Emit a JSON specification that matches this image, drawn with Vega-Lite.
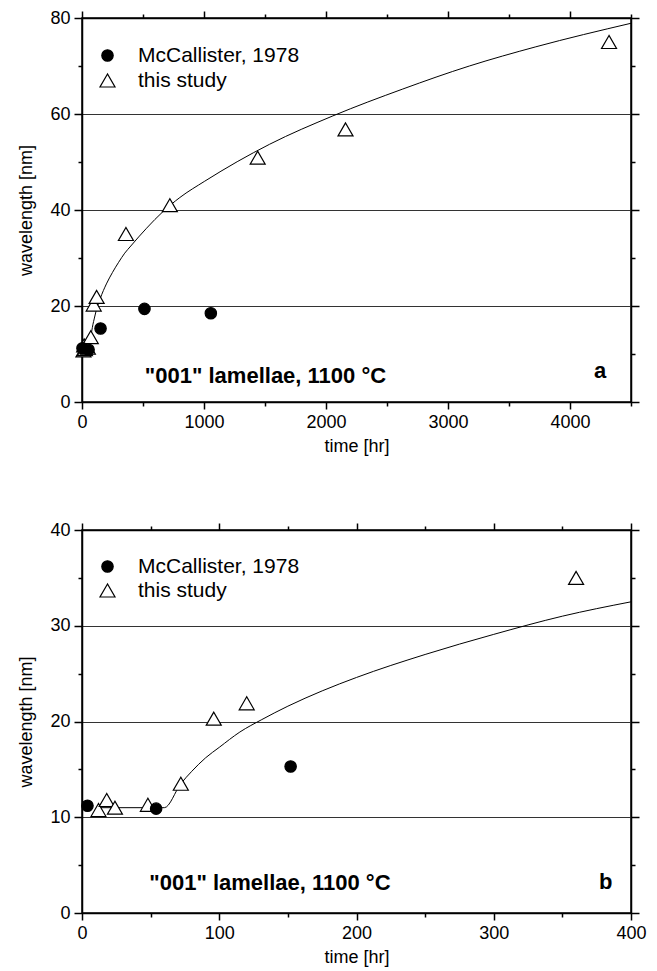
{
  "$schema": "https://vega.github.io/schema/vega-lite/v6.json",
  "padding": {"top": 8, "left": 17, "right": 8, "bottom": 3},
  "background": "white",
  "config": {
    "font": "Liberation Sans",
    "view": {"stroke": "black", "strokeWidth": 1.5},
    "axis": {
      "domainColor": "black", "domainWidth": 1.5,
      "ticks": true, "tickColor": "black", "tickWidth": 1.5,
      "labelFontSize": 18, "titleFontSize": 18, "titleFontWeight": "normal",
      "labelColor": "black", "titleColor": "black",
      "labelFlush": false, "grid": false, "labelPadding": 4,
      "labelFont": "Liberation Sans", "titleFont": "Liberation Sans"
    },
    "legend": {
      "orient": "none", "title": null, "padding": 0, "labelLimit": 400,
      "labelFontSize": 21, "labelFont": "Liberation Sans", "labelColor": "black",
      "labelOffset": 20, "symbolStrokeColor": "black", "symbolStrokeWidth": 1.2
    }
  },
  "datasets": {
    "points": [
      {"t": 12, "wl": 10.75, "series": "this study"},
      {"t": 18, "wl": 11.8, "series": "this study"},
      {"t": 24, "wl": 11.0, "series": "this study"},
      {"t": 48, "wl": 11.3, "series": "this study"},
      {"t": 72, "wl": 13.5, "series": "this study"},
      {"t": 96, "wl": 20.3, "series": "this study"},
      {"t": 120, "wl": 21.9, "series": "this study"},
      {"t": 360, "wl": 35.0, "series": "this study"},
      {"t": 720, "wl": 41.0, "series": "this study"},
      {"t": 1440, "wl": 50.9, "series": "this study"},
      {"t": 2160, "wl": 56.8, "series": "this study"},
      {"t": 4320, "wl": 75.0, "series": "this study"},
      {"t": 4, "wl": 11.2, "series": "McCallister, 1978"},
      {"t": 54, "wl": 10.9, "series": "McCallister, 1978"},
      {"t": 152, "wl": 15.3, "series": "McCallister, 1978"},
      {"t": 512, "wl": 19.4, "series": "McCallister, 1978"},
      {"t": 1056, "wl": 18.5, "series": "McCallister, 1978"}
    ],
    "curve": [
      {"t": 12, "wl": 11.0}, {"t": 60, "wl": 11.0}, {"t": 72, "wl": 13.5}, {"t": 80, "wl": 14.8},
      {"t": 90, "wl": 16.2}, {"t": 100, "wl": 17.3}, {"t": 115, "wl": 18.9}, {"t": 131, "wl": 20.2},
      {"t": 150, "wl": 21.6}, {"t": 175, "wl": 23.2}, {"t": 200, "wl": 24.6}, {"t": 250, "wl": 27.0},
      {"t": 300, "wl": 29.1}, {"t": 350, "wl": 31.0}, {"t": 400, "wl": 32.5}, {"t": 529, "wl": 36.2},
      {"t": 665, "wl": 39.7}, {"t": 802, "wl": 42.6}, {"t": 1006, "wl": 46.0}, {"t": 1538, "wl": 53.7},
      {"t": 2056, "wl": 59.6}, {"t": 2629, "wl": 65.2}, {"t": 3175, "wl": 70.0}, {"t": 3720, "wl": 74.0},
      {"t": 4500, "wl": 78.9}
    ]
  },
  "spacing": 64,
  "resolve": {
    "scale": {"x": "independent", "y": "independent", "shape": "independent", "fill": "independent", "size": "independent", "stroke": "independent"},
    "legend": {"shape": "independent", "fill": "independent", "size": "independent", "stroke": "independent"}
  },
  "vconcat": [
    {
      "width": 549,
      "height": 384,
      "resolve": {"axis": {"x": "independent", "y": "independent"}},
      "layer": [
        {
          "data": {"name": "curve"},
          "mark": {"type": "line", "color": "black", "strokeWidth": 1, "interpolate": "monotone"},
          "encoding": {
            "x": {"field": "t", "type": "quantitative", "scale": {"domain": [0, 4500], "nice": false, "zero": false},
              "axis": {"orient": "top", "values": [0, 1000, 2000, 3000, 4000], "labels": false, "title": null, "tickSize": 7}},
            "y": {"field": "wl", "type": "quantitative", "scale": {"domain": [0, 80], "nice": false},
              "axis": {"orient": "right", "values": [0, 20, 40, 60, 80], "labels": false, "title": null, "tickSize": 8}}
          }
        },
        {
          "data": {"name": "points"},
          "mark": {"type": "point", "filled": true, "strokeWidth": 1.2, "opacity": 1},
          "encoding": {
            "x": {"field": "t", "type": "quantitative", "scale": {"domain": [0, 4500], "nice": false, "zero": false},
              "axis": {"orient": "bottom", "values": [0, 1000, 2000, 3000, 4000], "format": "d", "tickSize": 7,
                "title": "time [hr]", "titlePadding": 6}},
            "y": {"field": "wl", "type": "quantitative", "scale": {"domain": [0, 80], "nice": false},
              "axis": {"orient": "left", "values": [0, 20, 40, 60, 80], "tickSize": 8,
                "grid": true, "gridColor": "#333", "gridWidth": 1,
                "title": "wavelength [nm]", "titlePadding": 14}},
            "shape": {"field": "series", "type": "nominal",
              "scale": {"domain": ["McCallister, 1978", "this study"], "range": ["circle", "triangle-up"]},
              "legend": {"legendX": 15, "legendY": 27, "rowPadding": 3}},
            "fill": {"field": "series", "type": "nominal",
              "scale": {"domain": ["McCallister, 1978", "this study"], "range": ["black", "white"]},
              "legend": {"legendX": 15, "legendY": 27, "rowPadding": 3}},
            "stroke": {"field": "series", "type": "nominal",
              "scale": {"domain": ["McCallister, 1978", "this study"], "range": ["black", "black"]},
              "legend": {"legendX": 15, "legendY": 27, "rowPadding": 3}},
            "size": {"field": "series", "type": "nominal",
              "scale": {"domain": ["McCallister, 1978", "this study"], "range": [130, 225]},
              "legend": {"legendX": 15, "legendY": 27, "rowPadding": 3}}
          }
        },
        {
          "data": {"values": [{}]},
          "mark": {"type": "text", "text": "\"001\" lamellae, 1100 °C", "align": "left", "baseline": "alphabetic", "fontSize": 22, "fontWeight": "bold", "color": "black"},
          "encoding": {
            "x": {"datum": 515, "type": "quantitative", "scale": {"domain": [0, 4500], "nice": false, "zero": false},
              "axis": {"orient": "bottom", "values": [500, 1500, 2500, 3500, 4500], "labels": false, "title": null, "domain": false, "tickSize": 4}},
            "y": {"datum": 4, "type": "quantitative", "scale": {"domain": [0, 80], "nice": false},
              "axis": {"orient": "left", "values": [10, 30, 50, 70], "labels": false, "title": null, "domain": false, "tickSize": 4}}
          }
        },
        {
          "data": {"values": [{}]},
          "mark": {"type": "text", "text": "a", "align": "center", "baseline": "alphabetic", "fontSize": 22, "fontWeight": "bold", "color": "black"},
          "encoding": {
            "x": {"datum": 4246, "type": "quantitative", "scale": {"domain": [0, 4500], "nice": false, "zero": false},
              "axis": {"orient": "top", "values": [500, 1500, 2500, 3500, 4500], "labels": false, "title": null, "domain": false, "tickSize": 4}},
            "y": {"datum": 5.1, "type": "quantitative", "scale": {"domain": [0, 80], "nice": false},
              "axis": {"orient": "right", "values": [10, 30, 50, 70], "labels": false, "title": null, "domain": false, "tickSize": 4}}
          }
        }
      ]
    },
    {
      "width": 549,
      "height": 383,
      "resolve": {"axis": {"x": "independent", "y": "independent"}},
      "layer": [
        {
          "data": {"name": "curve"},
          "transform": [{"filter": "datum.t <= 400"}],
          "mark": {"type": "line", "color": "black", "strokeWidth": 1, "interpolate": "monotone"},
          "encoding": {
            "x": {"field": "t", "type": "quantitative", "scale": {"domain": [0, 400], "nice": false, "zero": false},
              "axis": {"orient": "top", "values": [0, 100, 200, 300, 400], "labels": false, "title": null, "tickSize": 7}},
            "y": {"field": "wl", "type": "quantitative", "scale": {"domain": [0, 40], "nice": false},
              "axis": {"orient": "right", "values": [0, 10, 20, 30, 40], "labels": false, "title": null, "tickSize": 8}}
          }
        },
        {
          "data": {"name": "points"},
          "transform": [{"filter": "datum.t <= 400"}],
          "mark": {"type": "point", "filled": true, "strokeWidth": 1.2, "opacity": 1},
          "encoding": {
            "x": {"field": "t", "type": "quantitative", "scale": {"domain": [0, 400], "nice": false, "zero": false},
              "axis": {"orient": "bottom", "values": [0, 100, 200, 300, 400], "format": "d", "tickSize": 7,
                "title": "time [hr]", "titlePadding": 6}},
            "y": {"field": "wl", "type": "quantitative", "scale": {"domain": [0, 40], "nice": false},
              "axis": {"orient": "left", "values": [0, 10, 20, 30, 40], "tickSize": 8,
                "grid": true, "gridColor": "#333", "gridWidth": 1,
                "title": "wavelength [nm]", "titlePadding": 14}},
            "shape": {"field": "series", "type": "nominal",
              "scale": {"domain": ["McCallister, 1978", "this study"], "range": ["circle", "triangle-up"]},
              "legend": {"legendX": 15, "legendY": 26, "rowPadding": 2}},
            "fill": {"field": "series", "type": "nominal",
              "scale": {"domain": ["McCallister, 1978", "this study"], "range": ["black", "white"]},
              "legend": {"legendX": 15, "legendY": 26, "rowPadding": 2}},
            "stroke": {"field": "series", "type": "nominal",
              "scale": {"domain": ["McCallister, 1978", "this study"], "range": ["black", "black"]},
              "legend": {"legendX": 15, "legendY": 26, "rowPadding": 2}},
            "size": {"field": "series", "type": "nominal",
              "scale": {"domain": ["McCallister, 1978", "this study"], "range": [130, 225]},
              "legend": {"legendX": 15, "legendY": 26, "rowPadding": 2}}
          }
        },
        {
          "data": {"values": [{}]},
          "mark": {"type": "text", "text": "\"001\" lamellae, 1100 °C", "align": "left", "baseline": "alphabetic", "fontSize": 22, "fontWeight": "bold", "color": "black"},
          "encoding": {
            "x": {"datum": 49, "type": "quantitative", "scale": {"domain": [0, 400], "nice": false, "zero": false},
              "axis": {"orient": "bottom", "values": [50, 150, 250, 350], "labels": false, "title": null, "domain": false, "tickSize": 4}},
            "y": {"datum": 2.45, "type": "quantitative", "scale": {"domain": [0, 40], "nice": false},
              "axis": {"orient": "left", "values": [5, 15, 25, 35], "labels": false, "title": null, "domain": false, "tickSize": 4}}
          }
        },
        {
          "data": {"values": [{}]},
          "mark": {"type": "text", "text": "b", "align": "center", "baseline": "alphabetic", "fontSize": 22, "fontWeight": "bold", "color": "black"},
          "encoding": {
            "x": {"datum": 381.6, "type": "quantitative", "scale": {"domain": [0, 400], "nice": false, "zero": false},
              "axis": {"orient": "top", "values": [50, 150, 250, 350], "labels": false, "title": null, "domain": false, "tickSize": 4}},
            "y": {"datum": 2.5, "type": "quantitative", "scale": {"domain": [0, 40], "nice": false},
              "axis": {"orient": "right", "values": [5, 15, 25, 35], "labels": false, "title": null, "domain": false, "tickSize": 4}}
          }
        }
      ]
    }
  ]
}
